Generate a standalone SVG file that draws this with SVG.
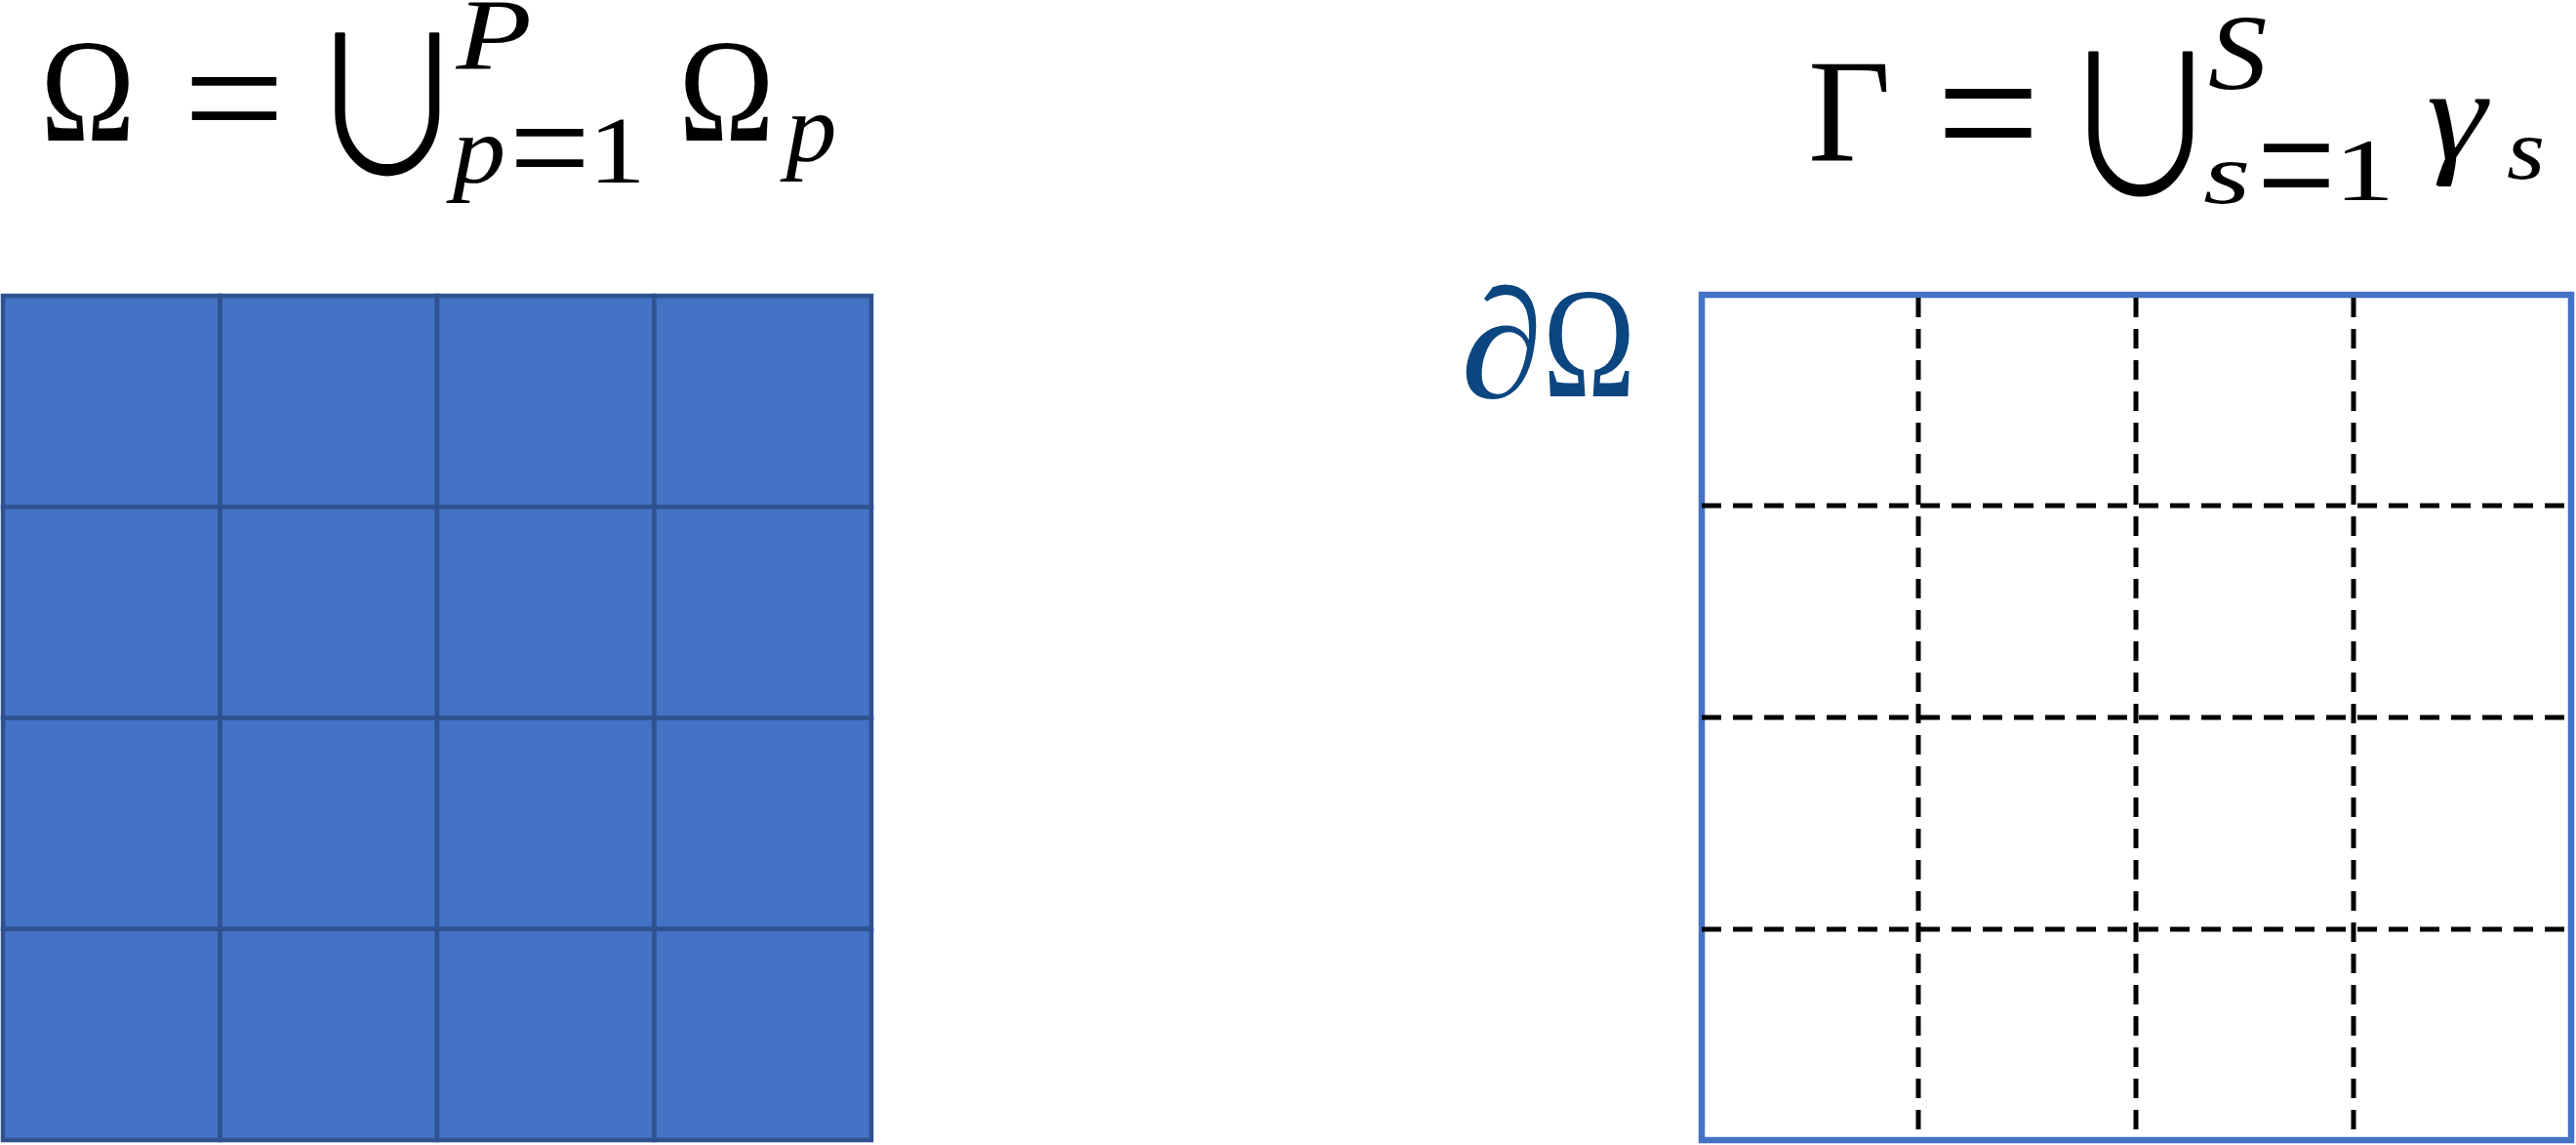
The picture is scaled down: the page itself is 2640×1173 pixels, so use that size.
<svg xmlns="http://www.w3.org/2000/svg" width="2640" height="1173" viewBox="0 0 2640 1173">
<style>
.cell{fill:#4472C4;stroke:#2F528F;stroke-width:4.5}
.m{font-family:"Liberation Serif","DejaVu Serif",serif;fill:#000}
.op{font-family:"Noto Sans CJK JP","DejaVu Sans",sans-serif;font-weight:300;letter-spacing:-30px;fill:#000;stroke:#000;stroke-width:2.2;stroke-linejoin:round}
.i{font-style:italic}
.dash{stroke:#000;stroke-width:5;stroke-dasharray:20 12;fill:none}
.bd{fill:none;stroke:#4472C4;stroke-width:6.5}
.blue{fill:#0B4680}
</style>
<rect width="2640" height="1173" fill="#fff"/>
<g id="subdomains">
<rect class="cell" x="3" y="303" width="222.5" height="216.25"/>
<rect class="cell" x="225.5" y="303" width="222.5" height="216.25"/>
<rect class="cell" x="448" y="303" width="222.5" height="216.25"/>
<rect class="cell" x="670.5" y="303" width="222.5" height="216.25"/>
<rect class="cell" x="3" y="519.25" width="222.5" height="216.25"/>
<rect class="cell" x="225.5" y="519.25" width="222.5" height="216.25"/>
<rect class="cell" x="448" y="519.25" width="222.5" height="216.25"/>
<rect class="cell" x="670.5" y="519.25" width="222.5" height="216.25"/>
<rect class="cell" x="3" y="735.5" width="222.5" height="216.25"/>
<rect class="cell" x="225.5" y="735.5" width="222.5" height="216.25"/>
<rect class="cell" x="448" y="735.5" width="222.5" height="216.25"/>
<rect class="cell" x="670.5" y="735.5" width="222.5" height="216.25"/>
<rect class="cell" x="3" y="951.75" width="222.5" height="216.25"/>
<rect class="cell" x="225.5" y="951.75" width="222.5" height="216.25"/>
<rect class="cell" x="448" y="951.75" width="222.5" height="216.25"/>
<rect class="cell" x="670.5" y="951.75" width="222.5" height="216.25"/>
</g>
<g id="boundary">
<rect class="bd" x="1744" y="302" width="891" height="866"/>
</g>
<g id="interfaces">
<line class="dash" x1="1744" y1="518" x2="2628" y2="518"/>
<line class="dash" x1="1744" y1="735" x2="2628" y2="735"/>
<line class="dash" x1="1744" y1="952" x2="2628" y2="952"/>
<line class="dash" x1="1966" y1="305" x2="1966" y2="1165"/>
<line class="dash" x1="2189" y1="305" x2="2189" y2="1165"/>
<line class="dash" x1="2412" y1="305" x2="2412" y2="1165"/>
</g>
<g id="formula-omega">
<text class="m" font-size="150" transform="translate(41.4,144) scale(0.87,1)">Ω</text>
<text class="m" font-size="150" transform="translate(187.4,158.7) scale(1.24,1.17)">=</text>
<text class="op" font-size="150" transform="translate(315.8,179) scale(1.08,1.29)">∪</text>
<text class="m i" font-size="104" transform="translate(467.6,71) scale(1.22,1)">P</text>
<text class="m i" font-size="99" transform="translate(463.8,186.7) scale(1.1,1)">p</text>
<text class="m" font-size="100" transform="translate(522,204.4) scale(1.47,1.57)">=</text>
<text class="m" font-size="98" transform="translate(603,187) scale(1.2,1)">1</text>
<text class="m" font-size="150" transform="translate(695.4,144) scale(0.88,1)">Ω</text>
<text class="m i" font-size="99" transform="translate(805.6,164.7) scale(1.05,1)">p</text>
</g>
<g id="formula-gamma">
<text class="m" font-size="150" transform="translate(1853,164) scale(0.98,1)">Γ</text>
<text class="m" font-size="150" transform="translate(1984.3,182) scale(1.26,1.33)">=</text>
<text class="op" font-size="150" transform="translate(2112.8,200) scale(1.08,1.3)">∪</text>
<text class="m i" font-size="110" transform="translate(2263,91) scale(1.1,1)">S</text>
<text class="m i" font-size="89" transform="translate(2258,208) scale(1.4,1)">s</text>
<text class="m" font-size="100" transform="translate(2313,228.8) scale(1.43,1.79)">=</text>
<text class="m" font-size="92" transform="translate(2392,205) scale(1.35,1)">1</text>
<text class="m i" font-size="134" transform="translate(2487,163) scale(1.16,1)">γ</text>
<text class="m i" font-size="89" transform="translate(2569,183) scale(1.13,1)">s</text>
</g>
<g id="label-boundary">
<text class="m i blue" font-size="160" transform="translate(1497,407) scale(1.07,1)">∂</text>
<text class="m blue" font-size="160" transform="translate(1581,406) scale(0.8,1)">Ω</text>
</g>
</svg>
